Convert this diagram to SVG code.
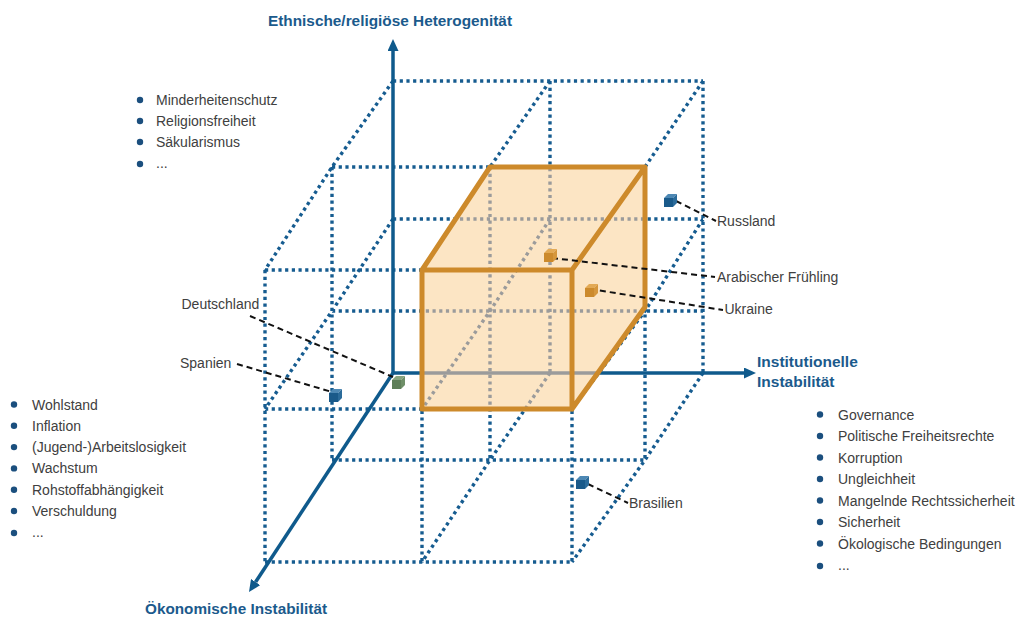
<svg xmlns="http://www.w3.org/2000/svg" width="1022" height="617" viewBox="0 0 1022 617">
<style>
.lat{fill:none;stroke-width:3.4;stroke-dasharray:3.2 3.5}
.ax{fill:none;stroke:#0f5a8c;stroke-width:3.5}
.lead{fill:none;stroke:#111;stroke-width:2;stroke-dasharray:6 4}
.t{font-family:"Liberation Sans",Arial,sans-serif;font-size:14px;fill:#404040}
.h{font-family:"Liberation Sans",Arial,sans-serif;font-size:15.5px;font-weight:bold;fill:#1b5a8c}
.b{fill:#1b4f7e}
.edge{fill:none;stroke:#cd8a2b;stroke-width:5;stroke-linejoin:round;stroke-linecap:round}
.bf{fill:#1a5a8a}.bt{fill:#4d88b4}.bs{fill:#2b6b9a}
.of{fill:#cc8a2c}.ot{fill:#e3aa55}.os{fill:#d6973c}
.gf{fill:#5f7f59}.gt{fill:#88a47f}.gs{fill:#6f8f68}
</style>
<defs>
<marker id="arr" markerUnits="userSpaceOnUse" markerWidth="12" markerHeight="11" refX="0" refY="5.5" orient="auto" viewBox="0 0 12 11">
<path d="M0,0 L12,5.5 L0,11 z" fill="#0f5a8c"/>
</marker>
<clipPath id="cubeClip">
<polygon points="422,270 490,167 645,167 645,307 572,409 422,409"/>
</clipPath>
<path id="lattice" class="lat" d="M393 81H703M393 219H703M550 81V373M703 81V373
M332 167H645M332 311H703M332 460H645M332 167V460M490 167V460M645 167V460
M265 270H572M265 409H572M265 562H572M265 270V562M422 270V562M572 270V562
M393 81L332 167L265 270M550 81L490 167L422 270M703 81L645 167L572 270
M393 219L332 311L265 409M550 219L490 311L422 409M703 219L645 311L572 409
M550 373L490 460L422 562M703 373L645 460L572 562"/>
</defs>
<rect width="1022" height="617" fill="#ffffff"/>

<g id="grid">
<use href="#lattice" stroke="#165c90"/>
</g>

<g id="axes">
<line class="ax" x1="393" y1="373" x2="393" y2="51" marker-end="url(#arr)"/>
<line class="ax" x1="393" y1="373" x2="744" y2="373" marker-end="url(#arr)"/>
<line class="ax" x1="393" y1="373" x2="255.6" y2="582" marker-end="url(#arr)"/>
</g>

<g id="cube">
<polygon points="422,270 490,167 645,167 645,307 572,409 422,409" fill="#fce5c4"/>
<g clip-path="url(#cubeClip)">
<use href="#lattice" stroke="#9b9b9b"/>
<line x1="393" y1="373" x2="700" y2="373" stroke="#9b9b9b" stroke-width="3.5"/>
</g>
<path class="edge" d="M422 270H572V409H422Z M422 270L490 167H645L572 270 M645 167V307L572 409"/>
</g>

<g id="connectors">
<path class="lead" d="M676 201L716 221"/>
<path class="lead" d="M552 258L715 277"/>
<path class="lead" d="M590 289L723 310"/>
<path class="lead" d="M588 484L628 503"/>
<path class="lead" d="M250 316L393 377"/>
<path class="lead" d="M237 364L332 392"/>
</g>

<g id="node-russland">
<g transform="translate(664,198)"><rect width="9" height="9" class="bf"/><polygon points="0,0 4,-4 13,-4 9,0" class="bt"/><polygon points="9,0 13,-4 13,5 9,9" class="bs"/></g>
<text class="t" x="717" y="226">Russland</text>
</g>
<g id="node-arabischer-fruehling">
<g transform="translate(544,253)"><rect width="9" height="9" class="of"/><polygon points="0,0 4,-4 13,-4 9,0" class="ot"/><polygon points="9,0 13,-4 13,5 9,9" class="os"/></g>
<text class="t" x="717" y="282">Arabischer Frühling</text>
</g>
<g id="node-ukraine">
<g transform="translate(585,288)"><rect width="9" height="9" class="of"/><polygon points="0,0 4,-4 13,-4 9,0" class="ot"/><polygon points="9,0 13,-4 13,5 9,9" class="os"/></g>
<text class="t" x="724.5" y="314">Ukraine</text>
</g>
<g id="node-brasilien">
<g transform="translate(576,480)"><rect width="9" height="9" class="bf"/><polygon points="0,0 4,-4 13,-4 9,0" class="bt"/><polygon points="9,0 13,-4 13,5 9,9" class="bs"/></g>
<text class="t" x="629" y="508">Brasilien</text>
</g>
<g id="node-deutschland">
<g transform="translate(392,380)"><rect width="9" height="9" class="gf"/><polygon points="0,0 4,-4 13,-4 9,0" class="gt"/><polygon points="9,0 13,-4 13,5 9,9" class="gs"/></g>
<text class="t" x="181.5" y="309">Deutschland</text>
</g>
<g id="node-spanien">
<g transform="translate(329,393)"><rect width="9" height="9" class="bf"/><polygon points="0,0 4,-4 13,-4 9,0" class="bt"/><polygon points="9,0 13,-4 13,5 9,9" class="bs"/></g>
<text class="t" x="180" y="368">Spanien</text>
</g>

<g id="label-ethnisch">
<text class="h" x="268" y="26" textLength="244" lengthAdjust="spacingAndGlyphs">Ethnische/religiöse Heterogenität</text>
</g>
<g id="label-institutionell">
<text class="h" x="757" y="367">Institutionelle</text>
<text class="h" x="757" y="387">Instabilität</text>
</g>
<g id="label-oekonomisch">
<text class="h" x="145" y="614" textLength="182" lengthAdjust="spacingAndGlyphs">Ökonomische Instabilität</text>
</g>

<g id="list-ethnisch">
<circle class="b" cx="140" cy="100" r="3.2"/><text class="t" x="156" y="105">Minderheitenschutz</text>
<circle class="b" cx="140" cy="121" r="3.2"/><text class="t" x="156" y="126">Religionsfreiheit</text>
<circle class="b" cx="140" cy="142" r="3.2"/><text class="t" x="156" y="147">Säkularismus</text>
<circle class="b" cx="140" cy="164" r="3.2"/><text class="t" x="156" y="168">...</text>
</g>

<g id="list-oekonomisch">
<circle class="b" cx="14" cy="404.5" r="3.2"/><text class="t" x="32" y="409.5">Wohlstand</text>
<circle class="b" cx="14" cy="425.8" r="3.2"/><text class="t" x="32" y="430.8">Inflation</text>
<circle class="b" cx="14" cy="447.1" r="3.2"/><text class="t" x="32" y="452.1">(Jugend-)Arbeitslosigkeit</text>
<circle class="b" cx="14" cy="468.4" r="3.2"/><text class="t" x="32" y="473.4">Wachstum</text>
<circle class="b" cx="14" cy="489.7" r="3.2"/><text class="t" x="32" y="494.7">Rohstoffabhängigkeit</text>
<circle class="b" cx="14" cy="511" r="3.2"/><text class="t" x="32" y="516">Verschuldung</text>
<circle class="b" cx="14" cy="533" r="3.2"/><text class="t" x="32" y="537.3">...</text>
</g>

<g id="list-institutionell">
<circle class="b" cx="820" cy="414.5" r="3.2"/><text class="t" x="838" y="419.5">Governance</text>
<circle class="b" cx="820" cy="436" r="3.2"/><text class="t" x="838" y="441">Politische Freiheitsrechte</text>
<circle class="b" cx="820" cy="457.5" r="3.2"/><text class="t" x="838" y="462.5">Korruption</text>
<circle class="b" cx="820" cy="479" r="3.2"/><text class="t" x="838" y="484">Ungleichheit</text>
<circle class="b" cx="820" cy="500.5" r="3.2"/><text class="t" x="838" y="505.5">Mangelnde Rechtssicherheit</text>
<circle class="b" cx="820" cy="522" r="3.2"/><text class="t" x="838" y="527">Sicherheit</text>
<circle class="b" cx="820" cy="543.5" r="3.2"/><text class="t" x="838" y="548.5">Ökologische Bedingungen</text>
<circle class="b" cx="820" cy="566" r="3.2"/><text class="t" x="838" y="570">...</text>
</g>
</svg>
